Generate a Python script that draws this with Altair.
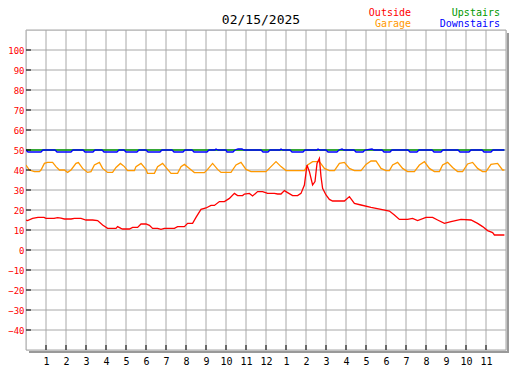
import altair as alt
import pandas as pd

# ---- data ----
out_h = [0.0, 0.08, 0.33, 0.6, 0.9, 1.0, 1.4, 1.58, 1.75, 1.92, 2.25, 2.42, 2.75, 3.0, 3.33, 3.58, 3.83,
         4.08, 4.5, 4.58, 4.75, 4.83, 5.17, 5.33, 5.58, 5.75, 6.0, 6.17, 6.33, 6.58, 6.75, 6.92, 7.42,
         7.58, 7.92, 8.08, 8.33, 8.5, 8.75, 9.0, 9.25, 9.42, 9.67, 9.92, 10.17, 10.42, 10.58, 10.83,
         10.92, 11.17, 11.33, 11.58, 11.83, 12.08, 12.42, 12.58, 12.75, 12.92, 13.08, 13.33, 13.58,
         13.75, 13.92, 14.05, 14.17, 14.33, 14.45, 14.55, 14.67, 14.75, 14.83, 15.0, 15.17, 15.33,
         15.92, 16.17, 16.42, 16.75, 17.25, 17.75, 18.17, 18.42, 18.67, 19.08, 19.33, 19.58, 20.0,
         20.33, 20.58, 20.92, 21.25, 21.75, 22.25, 22.58, 22.83, 23.08, 23.33, 23.42, 23.92]
out_v = [15.0, 14.7, 15.8, 16.3, 16.3, 15.8, 15.8, 16.2, 15.9, 15.5, 15.5, 15.8, 15.8, 15.0, 15.0, 14.7, 12.5,
         10.8, 10.8, 11.7, 10.8, 10.5, 10.5, 11.3, 11.3, 13.0, 13.0, 12.3, 10.8, 10.8, 10.3, 10.8, 10.8,
         11.7, 11.7, 13.3, 13.3, 16.3, 20.3, 21.0, 22.3, 22.3, 24.2, 24.2, 25.8, 28.3, 27.2, 27.2,
         28.0, 28.3, 27.0, 29.2, 29.2, 28.3, 28.3, 28.0, 28.0, 29.7, 28.7, 27.2, 27.2,
         28.3, 32.5, 42.5, 39.2, 32.5, 34.2, 43.3, 45.8, 36.7, 30.8, 27.5, 25.3, 24.5,
         24.5, 26.7, 23.3, 22.5, 21.3, 20.3, 19.5, 17.5, 15.3, 15.3, 15.8, 14.7, 16.3,
         16.3, 15.0, 13.3, 14.2, 15.3, 15.0, 13.3, 11.7, 9.7, 8.7, 7.5, 7.5]

gar_h = [0.0, 0.17, 0.42, 0.67, 0.75, 0.92, 1.08, 1.33, 1.5, 1.67, 1.92, 2.08, 2.25, 2.5, 2.62, 2.83,
         3.08, 3.25, 3.42, 3.67, 3.83, 4.08, 4.33, 4.5, 4.72, 4.92, 5.08, 5.42, 5.5, 5.75, 6.0, 6.08,
         6.42, 6.58, 6.83, 7.08, 7.25, 7.58, 7.75, 7.92, 8.17, 8.42, 8.92, 9.08, 9.33, 9.58, 9.75,
         10.25, 10.5, 10.75, 11.0, 11.25, 12.0, 12.25, 12.5, 12.75, 13.0, 13.92, 14.08, 14.33, 14.67,
         14.92, 15.17, 15.42, 15.67, 15.92, 16.17, 16.42, 16.75, 17.0, 17.25, 17.5, 17.75, 18.0,
         18.17, 18.33, 18.58, 18.83, 19.08, 19.42, 19.67, 19.92, 20.17, 20.42, 20.67, 20.83, 21.08,
         21.33, 21.58, 21.83, 22.08, 22.33, 22.58, 22.83, 23.0, 23.25, 23.58, 23.83, 23.92]
gar_v = [42.5, 40.0, 39.2, 39.2, 40.0, 43.3, 43.8, 43.8, 41.7, 40.0, 40.0, 38.8, 40.0, 43.3, 43.7, 40.8,
         38.8, 39.2, 42.5, 43.8, 40.8, 38.8, 38.8, 41.3, 43.3, 41.7, 39.7, 39.7, 41.7, 43.3, 40.3, 38.3,
         38.3, 41.7, 43.3, 40.3, 38.3, 38.3, 41.7, 42.8, 40.8, 38.7, 38.7, 40.3, 43.3, 40.3, 38.8,
         38.8, 42.5, 43.8, 40.3, 39.2, 39.2, 41.7, 44.2, 41.7, 39.7, 39.7, 42.5, 44.2, 44.2,
         40.8, 39.7, 39.7, 43.3, 43.8, 40.8, 39.7, 39.7, 42.8, 44.5, 44.5, 40.8, 39.7,
         39.7, 42.5, 43.8, 40.8, 39.2, 39.2, 42.5, 44.2, 40.8, 39.2, 39.2, 42.5, 43.8,
         41.3, 39.2, 39.2, 43.0, 43.8, 40.8, 39.2, 39.2, 42.8, 43.3, 40.0, 40.0]

up_h = [0.0, 6.0, 12.0, 18.0, 23.92]
up_v = [50.0, 50.0, 50.0, 50.0, 50.0]

dn_h = [0.0, 0.1, 0.75, 0.85, 1.45, 1.55, 2.25, 2.35, 2.85, 2.95, 3.35, 3.45, 3.8, 3.9, 4.55, 4.65,
        4.9, 5.0, 5.55, 5.65, 6.0, 6.1, 6.7, 6.8, 7.3, 7.4, 7.85, 7.95, 8.3, 8.4, 9.05, 9.15, 9.45,
        9.5, 9.6, 10.0, 10.05, 10.35, 10.45, 10.6, 10.8, 10.9, 11.75, 11.85, 12.1, 12.2, 12.7, 12.75,
        12.85, 13.2, 13.3, 13.85, 13.95, 14.55, 14.6, 14.7, 15.0, 15.1, 15.55, 15.65, 15.8, 15.9,
        16.4, 16.5, 16.85, 16.95, 17.3, 17.4, 17.8, 17.9, 18.2, 18.3, 19.1, 19.2, 19.55, 19.65,
        20.3, 20.4, 20.75, 20.85, 21.6, 21.7, 22.15, 22.25, 22.8, 22.9, 23.25, 23.35, 23.92]
dn_v = [50, 49, 49, 50, 50, 49, 49, 50, 50, 49, 49, 50, 50, 49, 49, 50,
        50, 49, 49, 50, 50, 49, 49, 50, 50, 49, 49, 50, 50, 49, 49, 50, 50,
        50.5, 50, 50, 49, 49, 50, 50.5, 50.5, 50, 50, 49, 49, 50, 50, 50.5,
        50, 50, 49, 49, 50, 50, 50.5, 50, 50, 49, 49, 50, 50.5, 50,
        50, 49, 49, 50, 50.5, 50, 50, 49, 49, 50, 50, 49, 49, 50,
        50, 49, 49, 50, 50, 49, 49, 50, 50, 49, 49, 50, 50]

series_names = ["Upstairs", "Downstairs", "Garage", "Outside"]
series_colors = ["#009900", "#0000ff", "#ff9900", "#ff0000"]
series_data = [(up_h, up_v), (dn_h, dn_v), (gar_h, gar_v), (out_h, out_v)]

y_ticks = [-40, -30, -20, -10, 0, 10, 20, 30, 40, 50, 60, 70, 80, 90, 100]
y_grid = [-50, -40, -30, -20, -10, 0, 10, 20, 30, 40, 50, 60, 70, 80, 90, 100, 110]
x_ticks = list(range(1, 24))
x_labels = ["1", "2", "3", "4", "5", "6", "7", "8", "9", "10", "11", "12",
            "1", "2", "3", "4", "5", "6", "7", "8", "9", "10", "11"]
x_grid = list(range(0, 25))
title_text = "02/15/2025"

W, H = 480, 320
FONT = "DejaVu Sans Mono"

xscale = alt.Scale(domain=[0, 24], nice=False, zero=False)
yscale = alt.Scale(domain=[-50, 110], nice=False, zero=False)

label_expr = "[" + ",".join(["''"] + ["'%s'" % s for s in x_labels] + ["''"]) + "][datum.value]"

x_axis = alt.Axis(values=x_ticks, labelExpr=label_expr, title=None, labelPadding=6,
                  labelFontSize=10, labelColor="black", labelAngle=0, labelBaseline="top",
                  labelOverlap=False, labelFlush=False, labelBound=False, grid=False,
                  domain=False, ticks=False, tickSize=0, labelFont=FONT, labelSeparation=0)
y_axis = alt.Axis(values=y_ticks, title=None, labelPadding=2, labelFontSize=9,
                  labelColor="#ff0000", labelOverlap=False, labelFlush=False, labelBound=False,
                  grid=False, domain=False, ticks=False, tickSize=0, labelFont=FONT,
                  labelSeparation=0)


def X(field):
    return alt.X(field + ":Q", scale=xscale, axis=x_axis)


def Y(field):
    return alt.Y(field + ":Q", scale=yscale, axis=y_axis)


# grid
vgrid = alt.Chart(pd.DataFrame({"h": x_grid})).mark_rule(color="#a8a8a8", strokeWidth=1).encode(
    x=X("h"))
hgrid = alt.Chart(pd.DataFrame({"v": y_grid})).mark_rule(color="#a8a8a8", strokeWidth=1).encode(
    y=Y("v"))

# inside ticks
ytick_marks = alt.Chart(pd.DataFrame({"v": y_ticks})).mark_rule(color="black", strokeWidth=1).encode(
    y=Y("v"), x=alt.value(0), x2=alt.value(5))
xtick_marks = alt.Chart(pd.DataFrame({"h": x_ticks})).mark_rule(color="black", strokeWidth=1).encode(
    x=X("h"), y=alt.value(H - 5), y2=alt.value(H))

# shadow
shadow_r = alt.Chart(pd.DataFrame({"a": [0]})).mark_rule(color="#999999", strokeWidth=2).encode(
    x=alt.value(W + 2), y=alt.value(3), y2=alt.value(H + 3))
shadow_b = alt.Chart(pd.DataFrame({"a": [0]})).mark_rule(color="#999999", strokeWidth=2).encode(
    y=alt.value(H + 2), x=alt.value(3), x2=alt.value(W + 3))

lines = []
for name, color, (hh, vv) in zip(series_names, series_colors, series_data):
    df = pd.DataFrame({"h": hh, "v": vv})
    lines.append(alt.Chart(df).mark_line(color=color, strokeWidth=1.3, clip=True).encode(
        x=X("h"), y=Y("v")))

# title and legend texts
title = alt.Chart(pd.DataFrame({"t": [title_text]})).mark_text(
    font=FONT, fontSize=13, color="black", align="center", baseline="middle").encode(
    text="t:N", x=alt.value(235), y=alt.value(-10))

leg_names = ["Outside", "Garage", "Upstairs", "Downstairs"]
leg_colors = ["#ff0000", "#ff9900", "#009900", "#0000ff"]
leg_x = [385, 385, 474, 474]
leg_y = [-17.5, -6, -17.5, -6]
legend_layers = []
for n, c, lx, ly in zip(leg_names, leg_colors, leg_x, leg_y):
    legend_layers.append(alt.Chart(pd.DataFrame({"t": [n]})).mark_text(
        font=FONT, fontSize=10, color=c, align="right", baseline="middle").encode(
        text="t:N", x=alt.value(lx), y=alt.value(ly)))

chart = alt.layer(vgrid, hgrid, shadow_r, shadow_b, *lines, ytick_marks, xtick_marks,
                  title, *legend_layers).properties(
    width=W, height=H,
    autosize=alt.AutoSizeParams(type="none"),
    padding={"left": 18, "top": 22, "right": 12, "bottom": 18},
).configure_view(stroke="black", strokeWidth=2).configure_axis(
    labelOverlap=False, labelFlush=False, labelBound=False
).configure(background="white")

chart.save("out.html", embed_options={"renderer": "svg", "actions": False})
